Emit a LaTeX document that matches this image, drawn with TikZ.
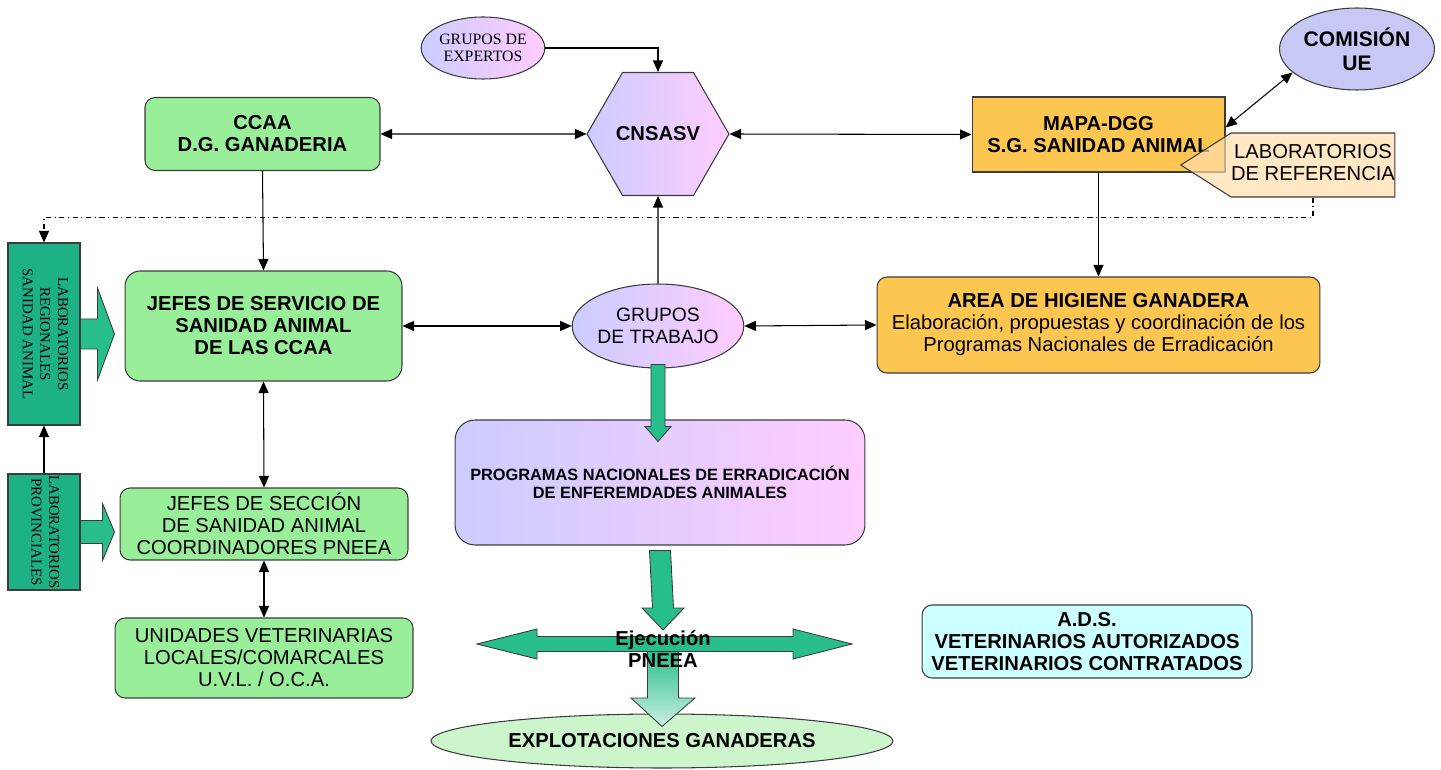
\documentclass[tikz,border=0pt]{standalone}
\usepackage{fontspec}
\usepackage{graphicx}
\setmainfont{Liberation Sans}
\newfontfamily\labfont{Liberation Serif}
\usetikzlibrary{shapes.geometric, shapes.symbols, arrows.meta, calc}
\definecolor{boxgreen}{RGB}{153,238,153}
\definecolor{boxorange}{RGB}{252,198,80}
\definecolor{labteal}{RGB}{28,178,134}
\definecolor{arrteal}{RGB}{40,190,140}
\definecolor{gradblue}{RGB}{204,204,255}
\definecolor{gradpink}{RGB}{255,204,255}
\definecolor{comblue}{RGB}{200,200,245}
\definecolor{refpeach}{RGB}{255,222,170}
\definecolor{adscyan}{RGB}{204,255,255}
\definecolor{explgreen}{RGB}{204,245,204}
\definecolor{edgegray}{RGB}{60,60,60}
\newcommand{\boldtxt}{\fontsize{11.5}{12.5}\selectfont\bfseries}
\newcommand{\regtxt}{\fontsize{11.5}{12.5}\selectfont}
\tikzset{
  gbox/.style={rectangle, draw=edgegray, fill=boxgreen, rounded corners=0.2cm,
    line width=0.6pt, align=center, inner sep=0pt},
  obox/.style={rectangle, draw=edgegray, fill=boxorange, rounded corners=0.2cm,
    line width=0.6pt, align=center, inner sep=0pt},
  labbox/.style={rectangle, draw=edgegray, fill=labteal, line width=0.6pt,
    inner sep=0pt, font=\labfont\fontsize{8.5}{10}\selectfont},
  gradell/.style={ellipse, draw=edgegray, left color=gradblue, right color=gradpink,
    line width=0.6pt, align=center, inner sep=0pt},
  conn/.style={-{Triangle[length=2.3mm,width=2mm]}, line width=0.6pt, black},
  dconn/.style={{Triangle[length=2.3mm,width=2mm]}-{Triangle[length=2.3mm,width=2mm]},
    line width=0.6pt, black},
  blockarr/.style={fill=arrteal, draw=edgegray, line width=0.5pt}
}

\begin{document}
\begin{tikzpicture}[x=0.02cm, y=-0.02cm]
  \useasboundingbox (0,0) rectangle (1441,770);

  % Upper level
  \node[gradell, minimum width=2.2cm, minimum height=1.24cm,
    font=\labfont\fontsize{9}{10}\selectfont] (exp) at (483,48) {GRUPOS DE\\EXPERTOS};
  \node[regular polygon, regular polygon sides=6, minimum size=2.84cm, inner sep=0pt,
    draw=edgegray, line width=0.6pt, left color=gradblue, right color=gradpink,
    font=\boldtxt] (cns) at (658,134) {CNSASV};
  \node[gbox, minimum width=4.7cm, minimum height=1.46cm, font=\boldtxt] (ccaa)
    at (262.5,134) {CCAA\\D.G. GANADERIA};
  \node[obox, rounded corners=0pt, minimum width=5.06cm, minimum height=1.5cm,
    font=\boldtxt] (mapa) at (1098.5,134.5) {MAPA-DGG\\S.G. SANIDAD ANIMAL};
  \node[ellipse, draw=edgegray, fill=comblue, line width=0.6pt, align=center,
    minimum width=3.1cm, minimum height=1.64cm, inner sep=0pt,
    font=\fontsize{12}{13.5}\selectfont\bfseries] (com) at (1357,49) {COMISIÓN\\UE};
  \node[signal, signal to=west, signal from=nowhere, signal pointer angle=65,
    draw=edgegray, fill=refpeach, fill opacity=0.7, text opacity=1, line width=0.6pt,
    minimum width=4.22cm, minimum height=1.28cm, inner sep=0pt,
    font=\regtxt] (labref) at (1313,165)
    {\begin{tabular}{@{}c@{}}LABORATORIOS\\DE REFERENCIA\end{tabular}\hspace{0.6cm}};

  % Middle level
  \node[labbox, minimum width=1.44cm, minimum height=3.64cm] (labreg) at (44,334)
    {\rotatebox[origin=c]{-90}{\begin{tabular}{@{}c@{}}LABORATORIOS\\REGIONALES\\SANIDAD ANIMAL\end{tabular}}};
  \node[gbox, rounded corners=0.3cm, minimum width=5.54cm, minimum height=2.2cm,
    font=\boldtxt] (jserv) at (263.5,326) {JEFES DE SERVICIO DE\\SANIDAD ANIMAL\\DE LAS CCAA};
  \node[gradell, minimum width=3.08cm, minimum height=1.68cm,
    font=\fontsize{11}{12.5}\selectfont] (gtrab) at (658,326) {GRUPOS\\DE TRABAJO};
  \node[obox, minimum width=8.86cm, minimum height=1.92cm, font=\regtxt] (area)
    at (1098.5,325) {\textbf{AREA DE HIGIENE GANADERA}\\Elaboración, propuestas y coordinación de los\\Programas Nacionales de Erradicación};
  \node[rectangle, draw=edgegray, line width=0.6pt, rounded corners=0.4cm,
    left color=gradblue, right color=gradpink, minimum width=8.2cm, minimum height=2.5cm,
    inner sep=0pt, align=center, font=\fontsize{9.3}{10}\selectfont\bfseries] (prog)
    at (660,482.5) {PROGRAMAS NACIONALES DE ERRADICACIÓN\\DE ENFEREMDADES ANIMALES};

  % Lower level
  \node[labbox, minimum width=1.44cm, minimum height=2.32cm] (labprov) at (44,532)
    {\rotatebox[origin=c]{-90}{\begin{tabular}{@{}c@{}}LABORATORIOS\\PROVINCIALES\end{tabular}}};
  \node[gbox, minimum width=5.76cm, minimum height=1.44cm, font=\regtxt] (jsec)
    at (264,524) {JEFES DE SECCIÓN\\DE SANIDAD ANIMAL\\COORDINADORES PNEEA};
  \node[gbox, minimum width=5.96cm, minimum height=1.6cm, font=\regtxt] (uvl)
    at (264,658) {UNIDADES VETERINARIAS\\LOCALES/COMARCALES\\U.V.L. / O.C.A.};
  \node[rectangle, draw=edgegray, fill=adscyan, line width=0.6pt, rounded corners=0.2cm,
    minimum width=6.6cm, minimum height=1.46cm, inner sep=0pt, align=center,
    font=\boldtxt] (ads) at (1087,641.5) {A.D.S.\\VETERINARIOS AUTORIZADOS\\VETERINARIOS CONTRATADOS};
  \node[ellipse, draw=edgegray, fill=explgreen, line width=0.6pt, minimum width=9.24cm,
    minimum height=1.08cm, inner sep=0pt, font=\boldtxt] (expl) at (662,741)
    {EXPLOTACIONES GANADERAS};

  % Thin connectors
  \draw[conn] (exp.east) -| (cns.north);
  \draw[dconn] (ccaa.east) -- (cns.west);
  \draw[dconn] (cns.east) -- (mapa.west);
  \draw[dconn] ([yshift=4pt]mapa.east) -- (com.200);
  \draw[conn, dash dot] (labref.south) -- ++(0,20) -| (labreg.north);
  \draw[conn] (mapa.south) -- (area.north);
  \draw[conn] (ccaa.south) -- (jserv.north);
  \draw[dconn] (jserv.east) -- (gtrab.west);
  \draw[dconn] (gtrab.east) -- (area.west);
  \draw[conn] (gtrab.north) -- (cns.south);
  \draw[dconn] (jserv.south) -- (jsec.north);
  \draw[dconn] (jsec.south) -- (uvl.north);
  \draw[conn] (labprov.north) -- (labreg.south);

  % Block arrows
  \coordinate (tipA) at ($(labreg.east -| jserv.west)+(-10,0)$);
  \draw[blockarr] ($(labreg.east)+(0,-15)$) -- ($(tipA)+(-17,-15)$) -- ($(tipA)+(-17,-46)$)
    -- (tipA) -- ($(tipA)+(-17,46)$) -- ($(tipA)+(-17,15)$) -- ($(labreg.east)+(0,15)$) -- cycle;
  \coordinate (tipB) at ($(labprov.east -| jsec.west)+(-5,0)$);
  \draw[blockarr] ($(labprov.east)+(0,-11.5)$) -- ($(tipB)+(-12,-11.5)$) -- ($(tipB)+(-12,-28.5)$)
    -- (tipB) -- ($(tipB)+(-12,28.5)$) -- ($(tipB)+(-12,11.5)$) -- ($(labprov.east)+(0,11.5)$) -- cycle;
  \coordinate (tipC) at ($(gtrab.south |- prog.north)+(0,22)$);
  \draw[blockarr] ($(gtrab.south)+(-7,-4)$) -- ($(tipC)+(-7,-15)$) -- ($(tipC)+(-13,-15)$)
    -- (tipC) -- ($(tipC)+(13,-15)$) -- ($(tipC)+(7,-15)$) -- ($(gtrab.south)+(7,-4)$) -- cycle;

  % Execution cross
  \coordinate (cross) at (663,644);
  \draw[blockarr] ($(prog.south)+(-10.5,5)$) -- ($(cross)+(-10.5,-36)$) -- ($(cross)+(-21,-36)$)
    -- ($(cross)+(0,-14)$) -- ($(cross)+(21,-36)$) -- ($(cross)+(10.5,-36)$)
    -- ($(prog.south)+(10.5,5)$) -- cycle;
  \shadedraw[top color=arrteal, bottom color=arrteal!25, draw=edgegray, line width=0.5pt]
    ($(cross)+(-15.5,6)$) -- ($(cross)+(-15.5,54)$) -- ($(cross)+(-32,54)$)
    -- ($(expl.north)+(0,13)$) -- ($(cross)+(32,54)$) -- ($(cross)+(15.5,54)$)
    -- ($(cross)+(15.5,6)$) -- cycle;
  \draw[blockarr] ($(cross)+(-186,0)$) -- ($(cross)+(-126,-15)$) -- ($(cross)+(-126,-7.5)$)
    -- ($(cross)+(130,-7.5)$) -- ($(cross)+(130,-15)$) -- ($(cross)+(189,0)$)
    -- ($(cross)+(130,15)$) -- ($(cross)+(130,7.5)$) -- ($(cross)+(-126,7.5)$)
    -- ($(cross)+(-126,15)$) -- cycle;
  \node[align=center, inner sep=0pt, font=\boldtxt] (exec) at ($(cross)+(0,5)$) {Ejecución\\PNEEA};
\end{tikzpicture}
\end{document}
